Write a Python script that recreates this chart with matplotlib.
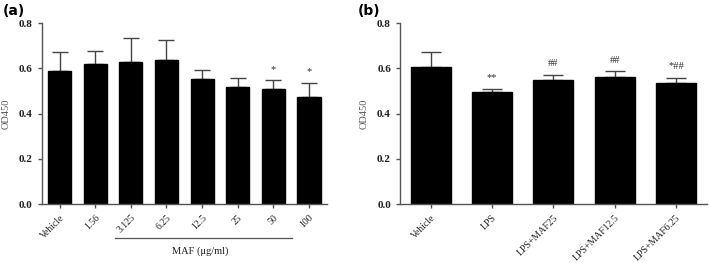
import matplotlib.pyplot as plt
import numpy as np

# panel (a): MAF dose series
a_labels = ["Vehicle", "1.56", "3.125", "6.25", "12.5", "25", "50", "100"]
a_means = [0.590, 0.619, 0.630, 0.636, 0.553, 0.516, 0.508, 0.474]
a_tops = [0.671, 0.679, 0.733, 0.724, 0.594, 0.560, 0.547, 0.538]
a_marks = ["", "", "", "", "", "", "*", "*"]

# panel (b): LPS series
b_labels = ["Vehicle", "LPS", "LPS+MAF25", "LPS+MAF12.5", "LPS+MAF6.25"]
b_means = [0.605, 0.494, 0.548, 0.561, 0.537]
b_tops = [0.675, 0.511, 0.573, 0.589, 0.559]
b_marks = ["", "**", "##", "##", "*##"]

serif = "Liberation Serif"
spine_col = "#555555"

fig = plt.figure(figsize=(7.09, 2.63), dpi=100)
ax_a = fig.add_axes([0.0588, 0.2243, 0.4022, 0.687])
ax_b = fig.add_axes([0.5642, 0.2243, 0.4326, 0.687])


def draw(ax, labels, means, tops, marks, capsize, mark_pad):
    x = np.arange(len(labels))
    means = np.array(means)
    err = np.array(tops) - means
    ax.bar(x, means, width=0.65, color="black", edgecolor="black", zorder=2)
    ax.errorbar(x, means, yerr=[np.zeros_like(err), err], fmt="none",
                ecolor="#444444", elinewidth=1.0, capsize=capsize, capthick=1.0, zorder=1)
    for xi, t, m in zip(x, tops, marks):
        if m:
            ax.text(xi, t + mark_pad, m, ha="center", va="bottom", fontsize=7.5,
                    family=serif, color="#333333")
    ax.set_xlim(-0.5, len(labels) - 0.5)
    ax.set_ylim(0, 0.8)
    ax.set_yticks([0.0, 0.2, 0.4, 0.6, 0.8])
    ax.set_yticklabels(["0.0", "0.2", "0.4", "0.6", "0.8"], family=serif,
                       fontweight="bold", fontsize=8)
    ax.set_xticks(x)
    ax.set_xticklabels(labels, rotation=45, ha="right", rotation_mode="anchor",
                       family=serif, fontsize=7, color="#333333")
    ax.set_ylabel("OD450", family=serif, fontsize=7.5, color="#555555", labelpad=6)
    for s in ["top", "right"]:
        ax.spines[s].set_visible(False)
    for s in ["left", "bottom"]:
        ax.spines[s].set_color(spine_col)
        ax.spines[s].set_linewidth(1.0)
    ax.tick_params(axis="both", colors=spine_col, length=3, width=1.0)
    ax.tick_params(axis="both", labelcolor="#222222")


draw(ax_a, a_labels, a_means, a_tops, a_marks, capsize=6, mark_pad=0.028)
draw(ax_b, b_labels, b_means, b_tops, b_marks, capsize=7, mark_pad=0.028)

# bracket line and label under the MAF doses
tr = ax_a.get_xaxis_transform()
ax_a.plot([1.55, 6.52], [-0.19, -0.19], color="#555555", lw=0.9, transform=tr, clip_on=False)
ax_a.text(3.95, -0.26, "MAF (\u03bcg/ml)", transform=tr, ha="center", va="center",
          family=serif, fontsize=7.5, color="#222222")

fig.text(0.004, 0.985, "(a)", fontsize=10, fontweight="bold", va="top", ha="left")
fig.text(0.504, 0.985, "(b)", fontsize=10, fontweight="bold", va="top", ha="left")

fig.savefig("out.png", dpi=100)
